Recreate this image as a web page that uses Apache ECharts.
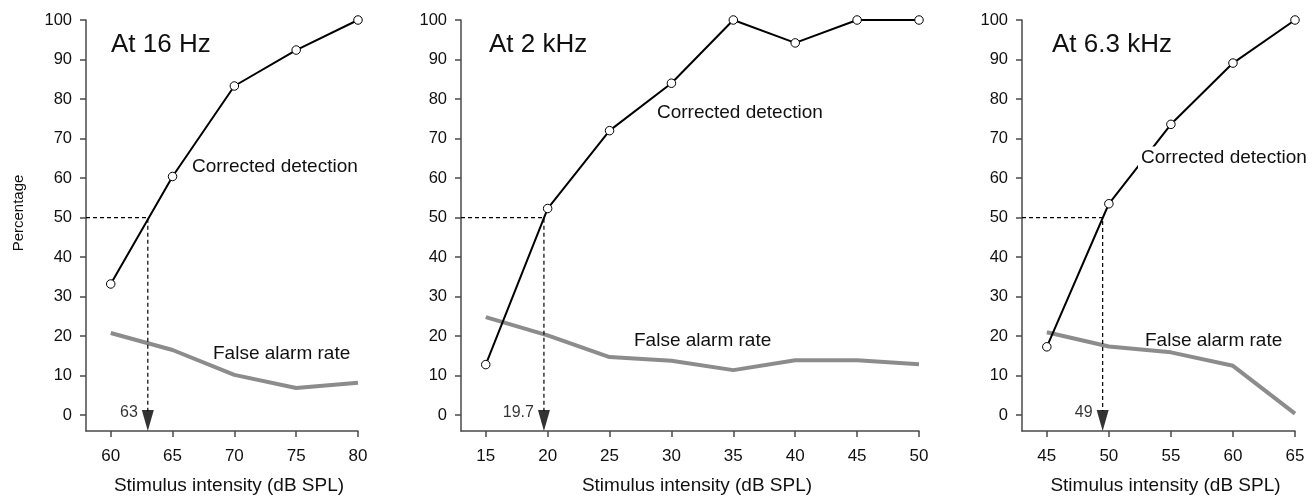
<!DOCTYPE html>
<html>
<head>
<meta charset="utf-8">
<script src="https://cdn.jsdelivr.net/npm/echarts@6/dist/echarts.min.js"></script>
<style>
  html, body { margin: 0; padding: 0; background: #fff; }
  #main { width: 1313px; height: 497px; }
</style>
</head>
<body>
<div id="main"></div>
<script>
// panel titles
const panelTitles = ['At 16 Hz', 'At 2 kHz', 'At 6.3 kHz'];

// stimulus levels (dB SPL) per panel
const levels16 = [60, 65, 70, 75, 80];
const levels2k = [15, 20, 25, 30, 35, 40, 45, 50];
const levels63 = [45, 50, 55, 60, 65];

// corrected detection (%)
const detect16 = [33.2, 60.4, 83.3, 92.4, 100];
const detect2k = [12.8, 52.3, 72.0, 84.0, 100, 94.2, 100, 100];
const detect63 = [17.3, 53.5, 73.6, 89.1, 100];

// false alarm rate (%)
const falseAlarm16 = [20.8, 16.5, 10.2, 6.9, 8.2];
const falseAlarm2k = [24.8, 20.2, 14.7, 13.8, 11.4, 13.9, 13.9, 12.9];
const falseAlarm63 = [21.0, 17.4, 15.9, 12.5, 0.4];

// 50% threshold crossings and their labels
const thresholds = [63, 19.7, 49.5];
const thresholdLabels = ['63', '19.7', '49'];
const criterion = 50;

// axis ranges / ticks
const xMins = [58, 13, 43];
const xMaxs = [80, 50, 65];
const yMin = -4;
const yMax = 100;
const yTicks = [0, 10, 20, 30, 40, 50, 60, 70, 80, 90, 100];

const levels = [levels16, levels2k, levels63];
const detects = [detect16, detect2k, detect63];
const falseAlarms = [falseAlarm16, falseAlarm2k, falseAlarm63];

const FONT = '"Liberation Sans", Arial, Helvetica, sans-serif';
const axisColor = '#4a4a4a';

// fixed plot boxes, v6 would otherwise shrink them to fit the axis names
const grids = [
  { left: 86, top: 20, width: 272, height: 411, outerBoundsMode: 'none' },
  { left: 461, top: 20, width: 458, height: 411, outerBoundsMode: 'none' },
  { left: 1022, top: 20, width: 273, height: 411, outerBoundsMode: 'none' }
];

const xAxes = [], yAxes = [], series = [];
for (let i = 0; i < 3; i++) {
  xAxes.push({
    type: 'value', gridIndex: i, min: xMins[i], max: xMaxs[i],
    name: 'Stimulus intensity (dB SPL)', nameLocation: 'middle', nameGap: 45,
    nameTextStyle: { fontFamily: FONT, fontSize: 19, color: '#111', padding: [0, 0, 0, 14] },
    axisLine: { show: true, onZero: false, lineStyle: { color: axisColor, width: 1.5 } },
    axisTick: { show: true, length: 6, customValues: levels[i], lineStyle: { color: axisColor, width: 1.5 } },
    axisLabel: { customValues: levels[i], margin: 17, fontFamily: FONT, fontSize: 17, color: '#111' },
    splitLine: { show: false }
  });
  yAxes.push({
    type: 'value', gridIndex: i, min: yMin, max: yMax,
    axisLine: { show: true, onZero: false, lineStyle: { color: axisColor, width: 1.5 } },
    axisTick: { show: true, length: 6, customValues: yTicks, lineStyle: { color: axisColor, width: 1.5 } },
    axisLabel: { customValues: yTicks, margin: 14, fontFamily: FONT, fontSize: 16.5, color: '#111' },
    splitLine: { show: false }
  });

  // false alarm rate (grey, thick)
  series.push({
    type: 'line', xAxisIndex: i, yAxisIndex: i, z: 2,
    data: levels[i].map((x, k) => [x, falseAlarms[i][k]]),
    showSymbol: false, symbol: 'none',
    lineStyle: { color: '#8c8c8c', width: 4 }
  });
  // dashed guide lines to the 50% crossing
  series.push({
    type: 'line', xAxisIndex: i, yAxisIndex: i, z: 3,
    data: [[xMins[i], criterion], [thresholds[i], criterion], [thresholds[i], 1]],
    symbol: 'none', silent: true,
    lineStyle: { color: '#000', width: 1.2, type: [4, 3] }
  });
  // corrected detection
  series.push({
    type: 'line', xAxisIndex: i, yAxisIndex: i, z: 4,
    data: levels[i].map((x, k) => [x, detects[i][k]]),
    symbol: 'circle', symbolSize: 8.5,
    itemStyle: { color: '#fff', borderColor: '#000', borderWidth: 1 },
    lineStyle: { color: '#000', width: 2 }
  });
  // arrow marking threshold
  series.push({
    type: 'scatter', xAxisIndex: i, yAxisIndex: i, z: 5, clip: false,
    data: [[thresholds[i], yMin]],
    symbol: 'path://M0,0L10,0L5,17Z', symbolSize: [12, 21], symbolOffset: [0, -10.5],
    symbolKeepAspect: false,
    itemStyle: { color: '#000' },
    label: {
      show: true, position: 'left', distance: 4, offset: [0, -8],
      formatter: () => thresholdLabels[i],
      fontFamily: FONT, fontSize: 16, color: '#000'
    }
  });
}

const textEl = (text, x, y, size, extra) => Object.assign({
  type: 'text', x: x, y: y, z: 100,
  style: Object.assign({
    text: text, fontFamily: FONT, fontSize: size, fill: '#111',
    textAlign: 'left', textVerticalAlign: 'middle'
  }, extra || {})
});

const graphics = [
  textEl(panelTitles[0], 111, 45, 26),
  textEl(panelTitles[1], 489, 45, 26),
  textEl(panelTitles[2], 1052, 45, 26),
  textEl('Corrected detection', 192, 167, 19),
  textEl('Corrected detection', 657, 113, 19),
  textEl('Corrected detection', 1138, 158, 19, { backgroundColor: '#fff', padding: [2, 3, 2, 3] }),
  textEl('False alarm rate', 213, 354, 19),
  textEl('False alarm rate', 634, 341, 19),
  textEl('False alarm rate', 1145, 341, 19),
  {
    type: 'text', x: 19, y: 213, rotation: Math.PI / 2, z: 100,
    style: { text: 'Percentage', fontFamily: FONT, fontSize: 15, fill: '#111', textAlign: 'center', textVerticalAlign: 'middle' }
  }
];

const chart = echarts.init(document.getElementById('main'), null, { renderer: 'canvas' });
chart.setOption({
  backgroundColor: '#fff',
  animation: false,
  grid: grids,
  xAxis: xAxes,
  yAxis: yAxes,
  series: series,
  graphic: { elements: graphics }
});
</script>
</body>
</html>
